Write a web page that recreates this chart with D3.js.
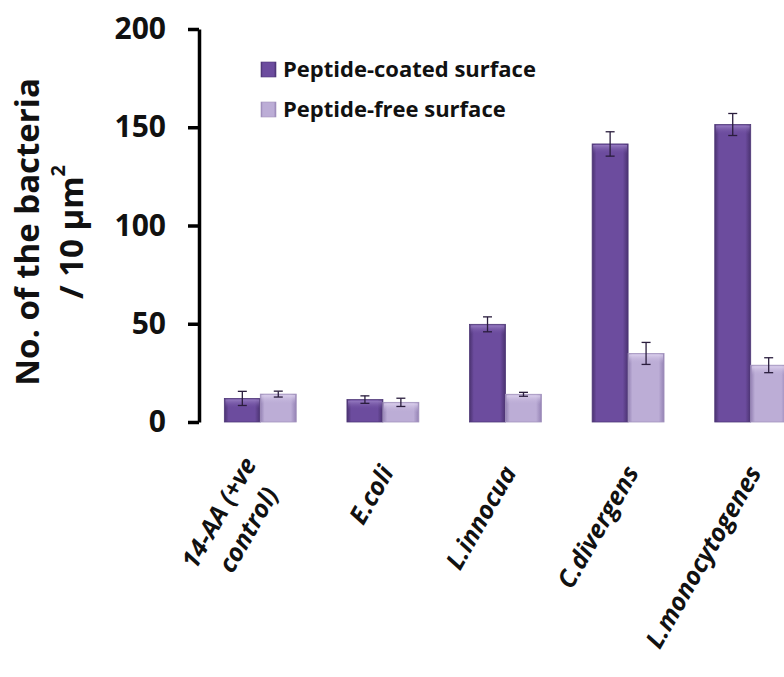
<!DOCTYPE html>
<html>
<head>
<meta charset="utf-8">
<script src="https://cdn.jsdelivr.net/npm/d3@7"></script>
<style>
	body { margin: 0; background: #fff; }
	text { font-family: "Open Sans", sans-serif; }
</style>
</head>
<body>
<svg id="container"></svg>
<script>
// chart data
const categories = ["14-AA (+ve\ncontrol)", "E.coli", "L.innocua", "C.divergens", "L.monocytogenes"];
const seriesNames = ["Peptide-coated surface", "Peptide-free surface"];
const coated = [12, 11.4, 49.7, 141.5, 151.4];
const coatedErr = [3.6, 1.9, 3.8, 6.2, 5.6];
const free = [14.2, 10, 14.1, 34.9, 28.9];
const freeErr = [1.5, 2.1, 1, 5.6, 3.8];
const yTicks = [0, 50, 100, 150, 200];

function drawChart() {

	const W = 784, H = 677;
	const margin = { top: 29, left: 199 },
		yBottom = 422,
		xRight = 812;

	var svg = d3.select("#container")
		.attr("width", W)
		.attr("height", H);

	// gradients to mimic the bevelled excel bars
	var defs = svg.append("defs");
	const palettes = [
		{ id: "gDark", edge: "#4a3270", mid: "#6c4c9e", top: "#9a80c4" },
		{ id: "gLight", edge: "#9482b4", mid: "#bcadd6", top: "#ddd2ee" }
	];
	palettes.forEach(p => {
		var g = defs.append("linearGradient").attr("id", p.id)
			.attr("x1", 0).attr("x2", 1).attr("y1", 0).attr("y2", 0);
		g.append("stop").attr("offset", "0%").attr("stop-color", p.edge);
		g.append("stop").attr("offset", "12%").attr("stop-color", p.mid);
		g.append("stop").attr("offset", "85%").attr("stop-color", p.mid);
		g.append("stop").attr("offset", "100%").attr("stop-color", p.edge);
		var t = defs.append("linearGradient").attr("id", p.id + "Top")
			.attr("x1", 0).attr("x2", 0).attr("y1", 0).attr("y2", 1);
		t.append("stop").attr("offset", "0%").attr("stop-color", p.top).attr("stop-opacity", 0.9);
		t.append("stop").attr("offset", "100%").attr("stop-color", p.mid).attr("stop-opacity", 0);
	});

	// scales
	var yScale = d3.scaleLinear().domain([0, 200]).range([yBottom, margin.top]);
	var xBand = d3.scaleBand().domain(categories).range([margin.left, xRight])
		.paddingInner(0.4135).paddingOuter(0.2067);
	var xSub = d3.scaleBand().domain(seriesNames).range([0, xBand.bandwidth()]);

	// y axis
	var gY = svg.append("g")
		.attr("transform", "translate(" + margin.left + ",0)")
		.call(d3.axisLeft(yScale).tickValues(yTicks).tickSize(11).tickPadding(22).tickSizeOuter(0));
	gY.select(".domain").attr("stroke", "#000").attr("stroke-width", 3.5);
	gY.selectAll(".tick line").attr("stroke", "#000").attr("stroke-width", 3.5);
	gY.selectAll(".tick text")
		.attr("font-size", 30)
		.attr("font-weight", "bold")
		.attr("fill", "#111")
		.style("font-family", "'Open Sans', sans-serif");

	// y axis title
	var title = svg.append("text")
		.attr("transform", "translate(27,232) rotate(-90)")
		.attr("text-anchor", "middle")
		.attr("font-size", 33)
		.attr("font-weight", "bold")
		.attr("fill", "#111");
	title.append("tspan").attr("x", 0).attr("dy", "0.35em").text("No. of the bacteria");
	title.append("tspan").attr("x", 0).attr("dy", "1.36em").text("/ 10 µm");
	title.append("tspan").attr("font-size", 20).attr("dy", "-0.9em").text("2");

	// bars
	const series = [
		{ name: seriesNames[0], vals: coated, errs: coatedErr, fill: "gDark" },
		{ name: seriesNames[1], vals: free, errs: freeErr, fill: "gLight" }
	];

	series.forEach(s => {
		var g = svg.append("g");
		var bw = xSub.bandwidth();
		g.selectAll("rect.bar")
			.data(categories)
			.enter()
			.append("rect")
			.attr("class", "bar")
			.attr("x", (d) => xBand(d) + xSub(s.name))
			.attr("y", (d, i) => yScale(s.vals[i]))
			.attr("width", bw)
			.attr("height", (d, i) => yScale(0) - yScale(s.vals[i]))
			.attr("fill", "url(#" + s.fill + ")")
			.attr("stroke", s.fill === "gDark" ? "#4f3878" : "#a394bd")
			.attr("stroke-width", 0.8);
		// top bevel
		g.selectAll("rect.top")
			.data(categories)
			.enter()
			.append("rect")
			.attr("class", "top")
			.attr("x", (d) => xBand(d) + xSub(s.name) + 1)
			.attr("y", (d, i) => yScale(s.vals[i]) + 1)
			.attr("width", bw - 2)
			.attr("height", (d, i) => Math.min(9, yScale(0) - yScale(s.vals[i]) - 2))
			.attr("fill", "url(#" + s.fill + "Top)");

		// error bars
		var eg = g.selectAll("g.err")
			.data(categories)
			.enter()
			.append("g")
			.attr("class", "err")
			.attr("stroke", "#2a1d3d")
			.attr("stroke-width", 1.3);
		const cx = (d) => xBand(d) + xSub(s.name) + bw / 2;
		eg.append("line")
			.attr("x1", cx).attr("x2", cx)
			.attr("y1", (d, i) => yScale(s.vals[i] + s.errs[i]))
			.attr("y2", (d, i) => yScale(s.vals[i] - s.errs[i]));
		[1, -1].forEach(sign => {
			eg.append("line")
				.attr("x1", d => cx(d) - 4.5).attr("x2", d => cx(d) + 4.5)
				.attr("y1", (d, i) => yScale(s.vals[i] + sign * s.errs[i]))
				.attr("y2", (d, i) => yScale(s.vals[i] + sign * s.errs[i]));
		});
	});

	// legend
	var legend = svg.append("g").attr("transform", "translate(261,62)");
	series.forEach((s, i) => {
		var row = legend.append("g").attr("transform", "translate(0," + (i * 40) + ")");
		row.append("rect")
			.attr("width", 15).attr("height", 15)
			.attr("fill", "url(#" + s.fill + ")")
			.attr("stroke", s.fill === "gDark" ? "#4f3878" : "#a394bd")
			.attr("stroke-width", 0.6);
		row.append("text")
			.attr("x", 22)
			.attr("y", 7.5)
			.attr("dy", "0.36em")
			.attr("font-size", 22)
			.attr("font-weight", "bold")
			.attr("fill", "#111")
			.text(s.name);
	});

	// x labels, end-anchored under each group and rotated
	const ang = -60, rad = ang * Math.PI / 180;
	const u = [Math.cos(rad), Math.sin(rad)], v = [-Math.sin(rad), Math.cos(rad)];
	const lh = 34;
	categories.forEach(c => {
		const lines = c.split("\n");
		const ax = xBand(c) + xBand.bandwidth() / 2 + 4, ay = 468;
		const texts = lines.map((ln, k) => {
			return svg.append("text")
				.attr("text-anchor", "end")
				.attr("dy", "0.35em")
				.attr("font-size", 25)
				.attr("font-weight", "bold")
				.attr("font-style", "italic")
				.attr("fill", "#111")
				.text(ln);
		});
		const lens = texts.map(t => t.node().getComputedTextLength());
		const maxLen = d3.max(lens);
		texts.forEach((t, k) => {
			const off = (k - (lines.length - 1) / 2) * lh;
			const back = (maxLen - lens[k]) / 2;
			const px = ax + off * v[0] - back * u[0];
			const py = ay + off * v[1] - back * u[1];
			t.attr("transform", "translate(" + px + "," + py + ") rotate(" + ang + ")");
		});
	});
}

drawChart();
</script>
</body>
</html>
